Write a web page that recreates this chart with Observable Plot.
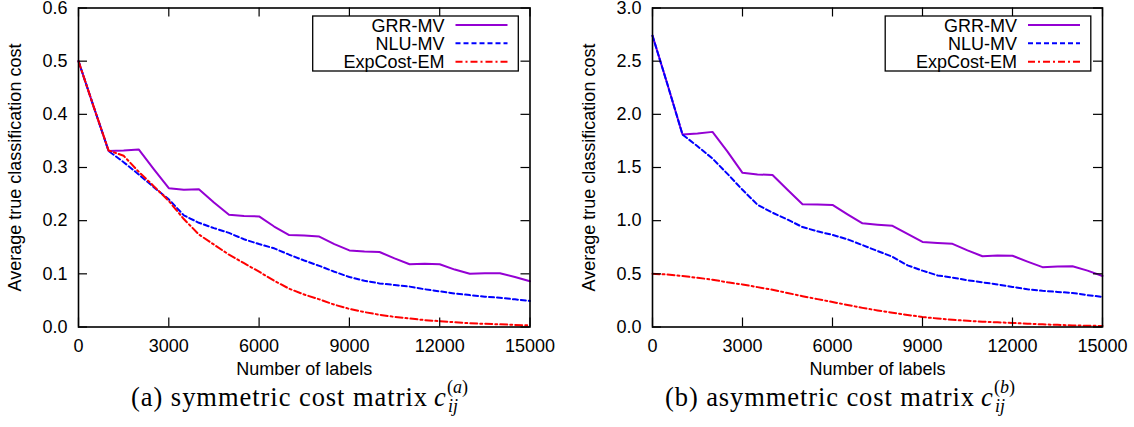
<!DOCTYPE html>
<html><head><meta charset="utf-8">
<script src="https://cdn.jsdelivr.net/npm/d3@7"></script>
<script src="https://cdn.jsdelivr.net/npm/@observablehq/plot@0.6"></script>
<style>
body{margin:0;background:#fff;}
#root{position:relative;width:1134px;height:427px;overflow:hidden;background:#fff;}
.panel{position:absolute;top:-10px;}
.panel svg{overflow:visible;}
#overlay{position:absolute;left:0;top:0;}
</style></head><body>
<div id="root">
  <div id="pa" class="panel" style="left:0px"></div>
  <div id="pb" class="panel" style="left:567px"></div>
  <svg id="overlay" width="1134" height="427"></svg>
</div>
<script>
// ---------- data ----------
const numLabels = [0,500,1000,1500,2000,2500,3000,3500,4000,4500,5000,5500,6000,6500,7000,7500,8000,8500,9000,9500,10000,10500,11000,11500,12000,12500,13000,13500,14000,14500,15000];
const seriesNames = ["GRR-MV","NLU-MV","ExpCost-EM"];

// (a) symmetric cost matrix
const grrA = [0.5,0.415,0.331,0.332,0.334,0.297,0.261,0.258,0.259,0.234,0.211,0.209,0.208,0.189,0.173,0.172,0.170,0.156,0.144,0.142,0.141,0.129,0.118,0.119,0.118,0.108,0.100,0.101,0.101,0.094,0.086];
const nluA = [0.5,0.415,0.331,0.310,0.287,0.263,0.240,0.210,0.196,0.186,0.177,0.165,0.156,0.148,0.136,0.125,0.115,0.104,0.094,0.087,0.082,0.079,0.076,0.071,0.067,0.063,0.060,0.057,0.055,0.052,0.049];
const expA = [0.5,0.415,0.332,0.322,0.292,0.265,0.237,0.203,0.174,0.155,0.136,0.120,0.104,0.087,0.072,0.061,0.052,0.042,0.034,0.028,0.023,0.019,0.016,0.013,0.011,0.009,0.007,0.006,0.005,0.004,0.003];

// (b) asymmetric cost matrix
const grrB = [2.74,2.28,1.81,1.82,1.835,1.65,1.45,1.435,1.43,1.29,1.155,1.152,1.148,1.06,0.975,0.962,0.952,0.875,0.80,0.79,0.782,0.72,0.665,0.672,0.67,0.615,0.563,0.57,0.572,0.53,0.48];
const nluB = [2.74,2.28,1.81,1.70,1.584,1.44,1.29,1.15,1.075,1.01,0.94,0.90,0.866,0.825,0.77,0.715,0.66,0.58,0.53,0.485,0.465,0.44,0.42,0.40,0.377,0.355,0.34,0.33,0.32,0.30,0.283];
const expB = [0.5,0.494,0.48,0.463,0.445,0.42,0.40,0.375,0.35,0.32,0.29,0.262,0.235,0.207,0.18,0.156,0.135,0.113,0.094,0.08,0.068,0.058,0.05,0.044,0.038,0.031,0.025,0.02,0.015,0.012,0.01];

const xTickValues = [0,3000,6000,9000,12000,15000];
const yTicksA = [0,0.1,0.2,0.3,0.4,0.5,0.6];
const yTicksB = [0,0.5,1.0,1.5,2.0,2.5,3.0];
const xLabel = "Number of labels";
const yLabel = "Average true classification cost";

// ---------- styles ----------
const colors = ["#9400d3","#0000ff","#ff0000"];
const dashes = [undefined,"5,3","7,3,2,3"];
const FONT = "'Liberation Sans', Arial, Helvetica, sans-serif";

function panel({values, yMax, yTicks, marginLeft, marginRight}) {
  const W = 567, H = 390, mt = 17.5, mb = 53.5;
  const iw = W - marginLeft - marginRight, ih = H - mt - mb;
  const lines = values.map((vals, s) => Plot.line(
    numLabels.map((x, i) => ({x, y: vals[i]})),
    Object.assign({x: "x", y: "y", stroke: colors[s], strokeWidth: 2, strokeLinejoin: "round"},
      dashes[s] ? {strokeDasharray: dashes[s]} : {})
  ));
  const tk = 9;
  return Plot.plot({
    width: W, height: H,
    marginTop: mt, marginBottom: mb, marginLeft, marginRight,
    x: {domain: [0, 15000]},
    y: {domain: [0, yMax]},
    style: {fontSize: "18px", fontFamily: FONT, background: "transparent", color: "black", overflow: "visible"},
    marks: [
      ...lines,
      Plot.ruleX(xTickValues, {x: d => d, insetTop: ih - tk, stroke: "black", strokeWidth: 1.2}),
      Plot.ruleX(xTickValues, {x: d => d, insetBottom: ih - tk, stroke: "black", strokeWidth: 1.2}),
      Plot.ruleY(yTicks, {y: d => d, insetRight: iw - tk, stroke: "black", strokeWidth: 1.2}),
      Plot.ruleY(yTicks, {y: d => d, insetLeft: iw - tk, stroke: "black", strokeWidth: 1.2}),
      Plot.axisX(xTickValues, {tickSize: 0, tickPadding: 12, label: null, tickFormat: d3.format("d"), fill: "black", fontSize: 18}),
      Plot.axisY(yTicks, {tickSize: 0, tickPadding: 11, label: null, tickFormat: d3.format(".1f"), fill: "black", fontSize: 18}),
      Plot.frame({stroke: "black", strokeWidth: 1.6}),
      Plot.text([xLabel], {frameAnchor: "bottom", dy: 48, lineAnchor: "bottom", fontSize: 18, fill: "black"}),
      Plot.text([yLabel], {frameAnchor: "left", rotate: -90, dx: -58, lineAnchor: "bottom", textAnchor: "middle", fontSize: 18, fill: "black"})
    ]
  });
}

document.getElementById("pa").appendChild(panel({values: [grrA, nluA, expA], yMax: 0.6, yTicks: yTicksA, marginLeft: 78, marginRight: 37.5}));
document.getElementById("pb").appendChild(panel({values: [grrB, nluB, expB], yMax: 3.0, yTicks: yTicksB, marginLeft: 85, marginRight: 32}));

// ---------- legends & captions ----------
const ov = d3.select("#overlay");
function legend(fr) {
  const g = ov.append("g");
  g.append("rect").attr("x", fr - 216.8).attr("y", 16).attr("width", 205.6).attr("height", 55)
    .attr("fill", "white").attr("stroke", "black").attr("stroke-width", 1.3);
  const base = [31.7, 50, 68.3], ly = [25, 43.3, 61.7];
  seriesNames.forEach((n, i) => {
    g.append("text").attr("x", fr - 85).attr("y", base[i]).attr("text-anchor", "end")
      .attr("font-family", FONT).attr("font-size", 18).attr("fill", "black").text(n);
    const l = g.append("line").attr("x1", fr - 74).attr("x2", fr - 22).attr("y1", ly[i]).attr("y2", ly[i])
      .attr("stroke", colors[i]).attr("stroke-width", 2);
    if (dashes[i]) l.attr("stroke-dasharray", dashes[i]);
  });
}
legend(529.5);
legend(1102);

const SERIF = "'Liberation Serif', 'Times New Roman', serif";
function caption(x0, mainText, mainLen, supLetter) {
  const g = ov.append("g").attr("font-family", SERIF).attr("fill", "black");
  const baseY = 406;
  g.append("text").attr("x", x0).attr("y", baseY).attr("font-size", 26.5)
    .attr("textLength", mainLen).attr("lengthAdjust", "spacing").text(mainText);
  const cx = x0 + mainLen + 7;
  g.append("text").attr("x", cx).attr("y", baseY).attr("font-size", 26.5).attr("font-style", "italic").text("c");
  const sx = cx + 13;
  const sup = g.append("text").attr("x", sx).attr("y", baseY - 13).attr("font-size", 18);
  sup.append("tspan").text("(");
  sup.append("tspan").attr("font-style", "italic").text(supLetter);
  sup.append("tspan").text(")");
  g.append("text").attr("x", sx + 1).attr("y", baseY + 6).attr("font-size", 18).attr("font-style", "italic").text("ij");
}
caption(131, "(a) symmetric cost matrix", 296, "a");
caption(665, "(b) asymmetric cost matrix", 309, "b");
</script>
</body></html>
